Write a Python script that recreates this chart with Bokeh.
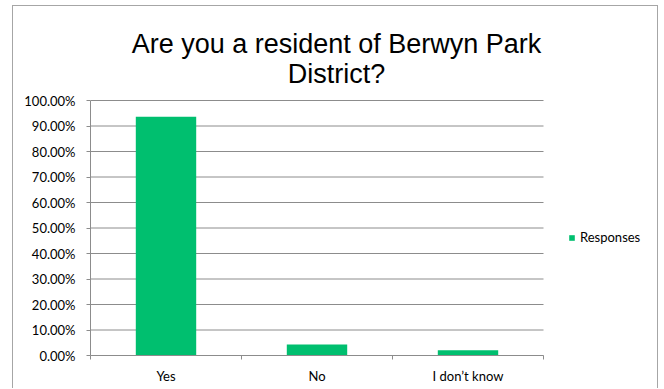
from bokeh.plotting import figure
from bokeh.models import (FixedTicker, NumeralTickFormatter, Legend, LegendItem, Label,
                          Range1d, ColumnDataSource)
from bokeh.embed import file_html
from bokeh.resources import INLINE

categories = ["Yes", "No", "I don\u2019t know"]
responses = [0.936, 0.043, 0.021]
y_ticks = [0.0, 0.1, 0.2, 0.3, 0.4, 0.5, 0.6, 0.7, 0.8, 0.9, 1.0]
title_lines = ["Are you a resident of Berwyn Park", "District?"]
series_name = "Responses"

# layout (pixels)
W, H = 646, 383            # figure size inside the chart border
LEFT, BOTTOM = 77, 34      # room for the axes
PLOT_W, PLOT_H = 453, 255  # size of the gridded plot area
FRAME_W, FRAME_H = W - LEFT, H - BOTTOM
GREEN = "#00BF6F"
GRAY = "#8c8c8c"
LABEL_FONT = "Lato"

n = len(categories)
centers = [i + 0.5 for i in range(n)]
bounds = [float(i) for i in range(n + 1)]
src = ColumnDataSource(dict(x=centers, top=responses, cat=categories))
grid_src = ColumnDataSource(dict(y=y_ticks, x0=[0] * len(y_ticks), x1=[n] * len(y_ticks)))

p = figure(width=W, height=H, output_backend="svg", toolbar_location=None,
           x_range=Range1d(0, n * FRAME_W / PLOT_W),
           y_range=Range1d(0, y_ticks[-1] * FRAME_H / PLOT_H),
           min_border_left=LEFT, min_border_right=0, min_border_top=0, min_border_bottom=BOTTOM,
           styles={"margin-left": "12px", "margin-top": "5px",
                   "border-left": "1px solid #a6a6a6", "border-top": "1px solid #a6a6a6",
                   "border-right": "1px solid #a6a6a6"})
p.title.visible = False
p.outline_line_color = None
p.background_fill_color = "white"
p.border_fill_color = "white"
p.xgrid.grid_line_color = None
p.ygrid.grid_line_color = None

# horizontal gridlines over the plot area only
p.segment(x0="x0", x1="x1", y0="y", y1="y", source=grid_src, line_color=GRAY, line_width=1)

r = p.vbar(x="x", top="top", width=0.4, bottom=0, source=src,
           fill_color=GREEN, line_color=None)

# axes
p.xaxis.bounds = (0, n)
p.xaxis.ticker = FixedTicker(ticks=centers, minor_ticks=bounds)
p.xaxis.major_label_overrides = {c: lab for c, lab in zip(centers, categories)}
p.xaxis.major_tick_line_color = None
p.xaxis.major_tick_out = 4
p.xaxis.major_tick_in = 0
p.xaxis.minor_tick_out = 4
p.xaxis.minor_tick_in = 0
p.xaxis.minor_tick_line_color = GRAY
p.xaxis.axis_line_color = GRAY
p.xaxis.major_label_standoff = 8
p.xaxis.major_label_text_font = LABEL_FONT
p.xaxis.major_label_text_font_size = "13px"
p.xaxis.major_label_text_color = "black"

p.yaxis.bounds = (y_ticks[0], y_ticks[-1])
p.yaxis.ticker = FixedTicker(ticks=y_ticks, minor_ticks=[])
p.yaxis.formatter = NumeralTickFormatter(format="0.00%")
p.yaxis.axis_line_color = GRAY
p.yaxis.major_tick_line_color = GRAY
p.yaxis.major_tick_out = 4
p.yaxis.major_tick_in = 0
p.yaxis.minor_tick_line_color = None
p.yaxis.major_label_standoff = 11
p.yaxis.major_label_text_font = LABEL_FONT
p.yaxis.major_label_text_font_size = "13px"
p.yaxis.major_label_text_color = "black"

# two-line centred title (screen units: from the frame's bottom-left corner)
for line, yb in zip(title_lines, [312, 282]):
    p.add_layout(Label(x=246, y=yb, x_units="screen", y_units="screen", text=line,
                       text_align="center", text_baseline="alphabetic",
                       text_font="Liberation Sans", text_font_size="27px",
                       text_color="black"))

legend = Legend(items=[LegendItem(label=series_name, renderers=[r])],
                location=(478, 110), glyph_width=7, glyph_height=7, label_standoff=5,
                padding=0, margin=0, label_height=14, border_line_color=None,
                background_fill_alpha=0, label_text_font=LABEL_FONT,
                label_text_font_size="13px", label_text_color="black")
p.add_layout(legend, "center")

open("out.html", "w").write(file_html(p, INLINE))
